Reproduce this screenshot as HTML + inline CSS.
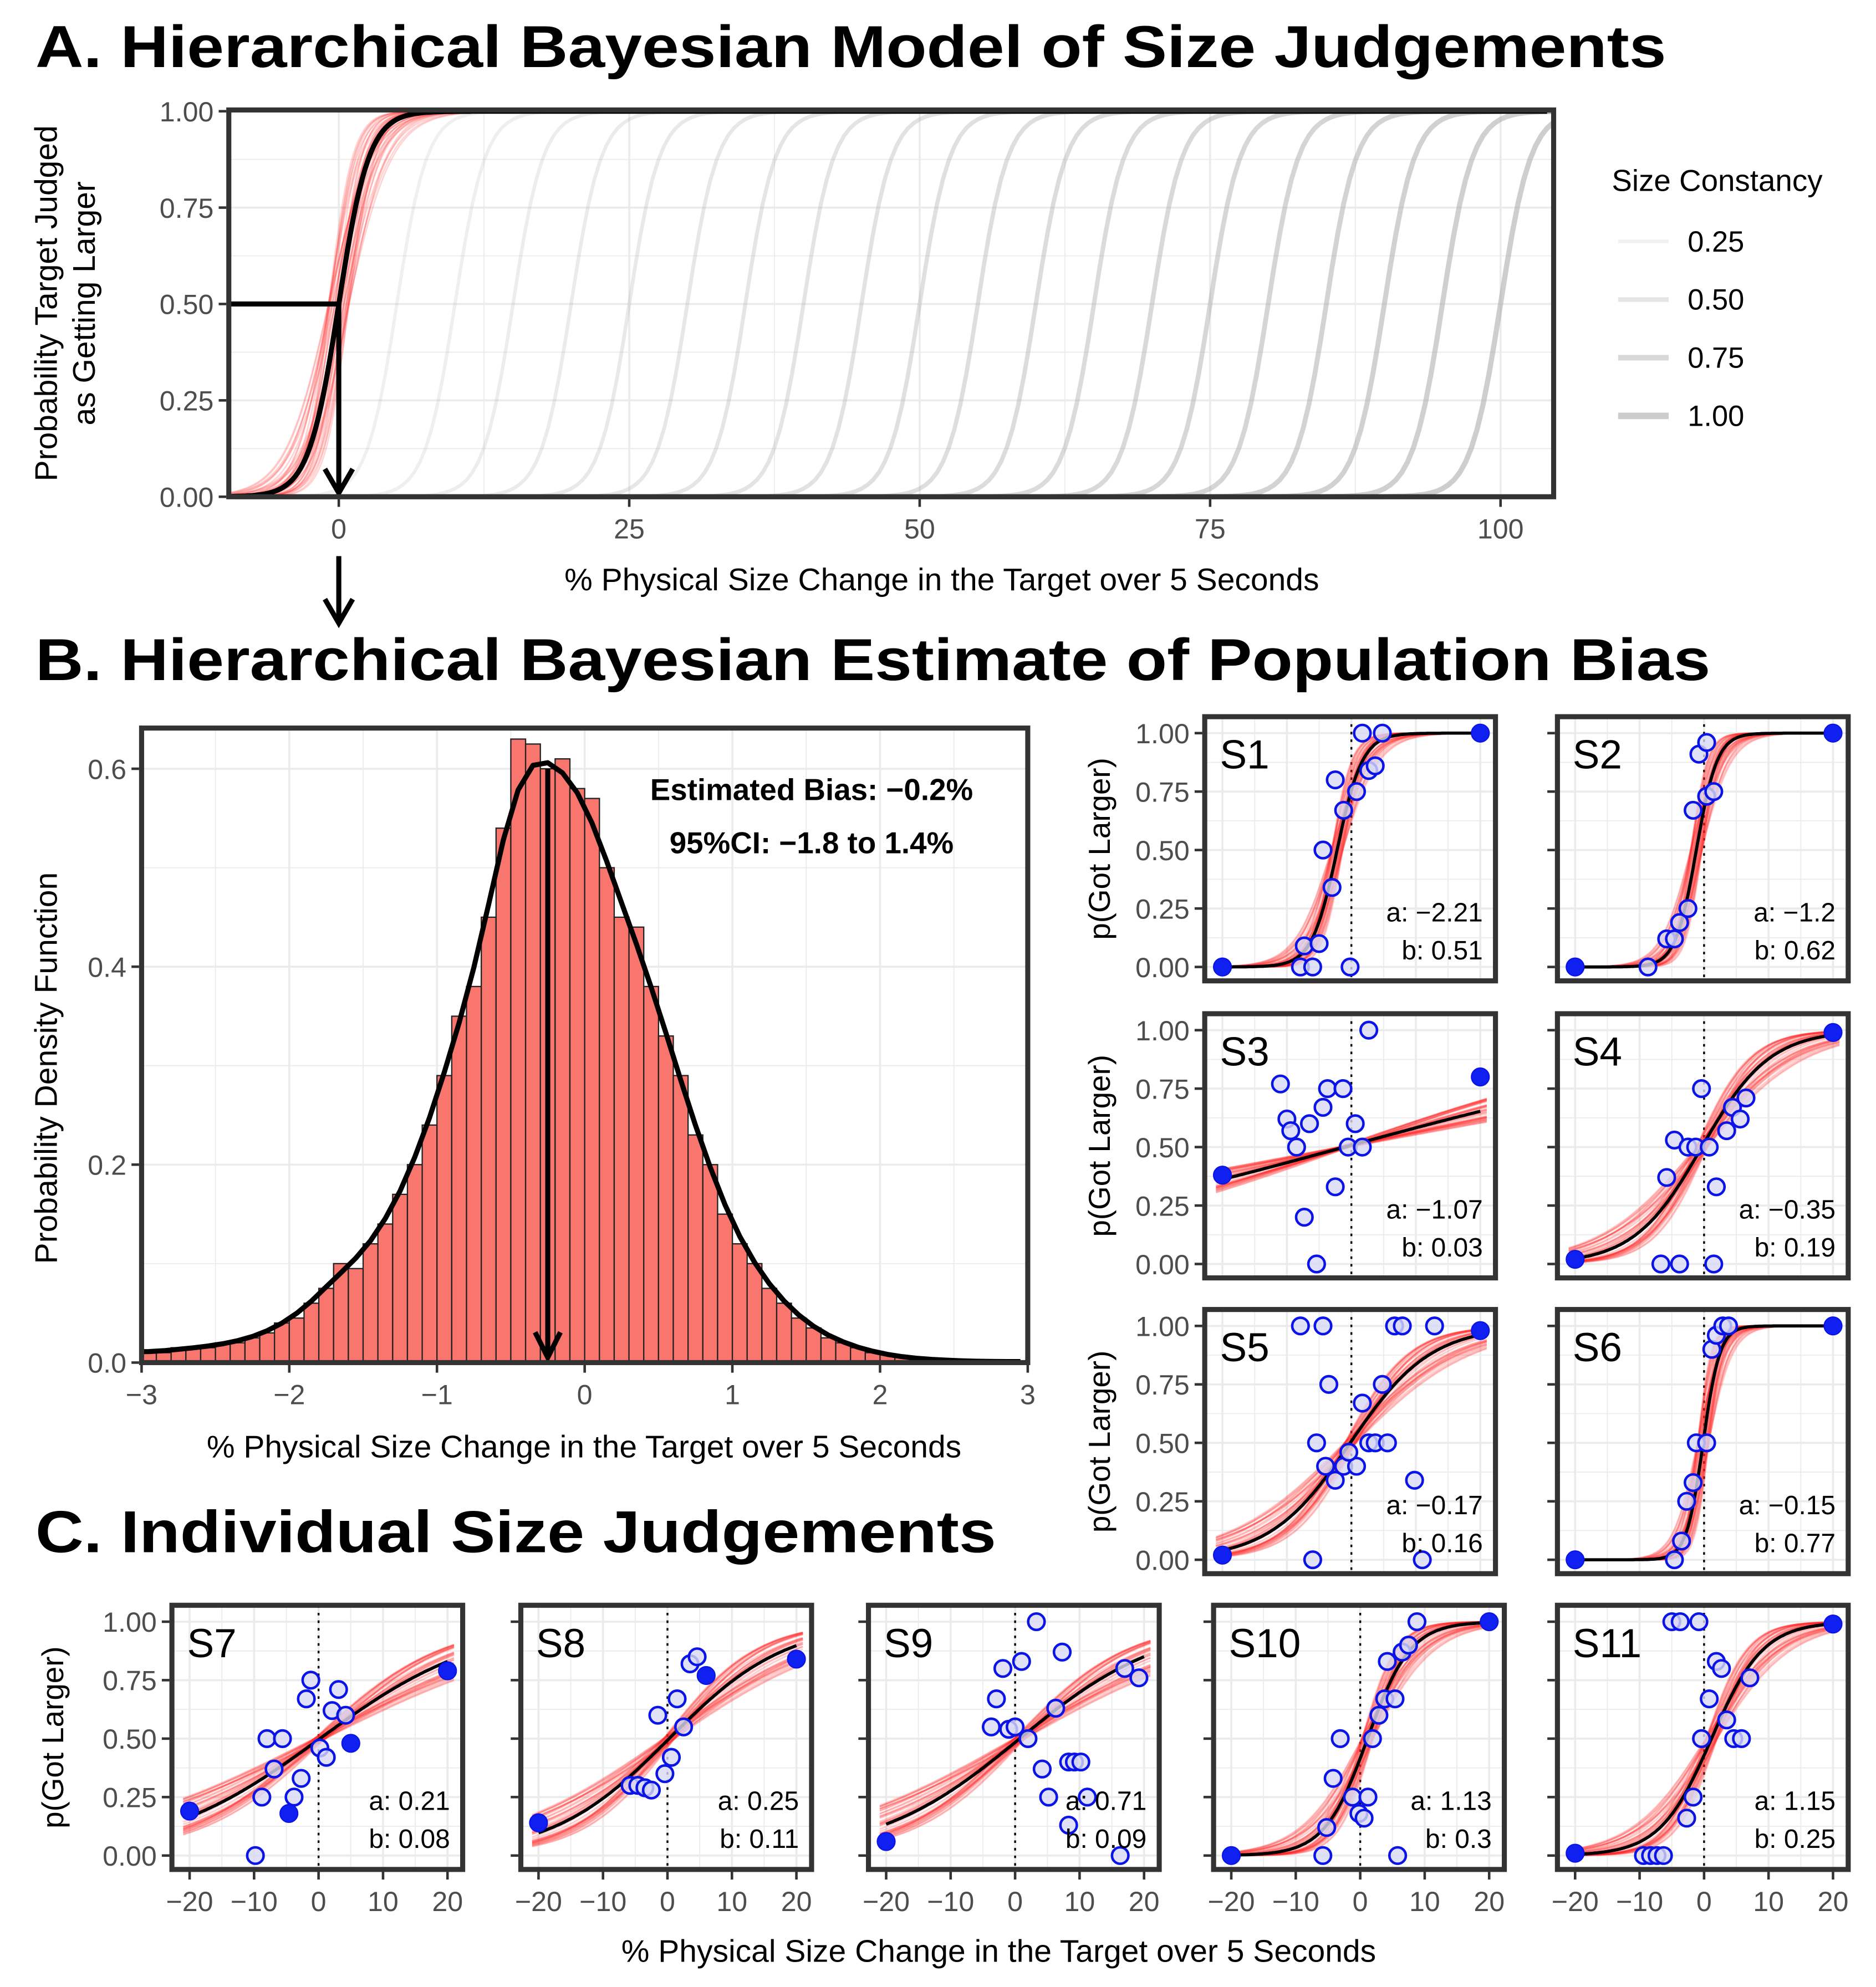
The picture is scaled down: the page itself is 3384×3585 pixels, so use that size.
<!DOCTYPE html>
<html><head><meta charset="utf-8"><style>
html,body{margin:0;padding:0;background:#fff;}
svg{display:block;font-family:"Liberation Sans",sans-serif;}
</style></head><body>
<svg id="fig" width="3384" height="3585" viewBox="0 0 1484 1572" preserveAspectRatio="none" xmlns="http://www.w3.org/2000/svg">
<rect width="1484" height="1572" fill="#fff"/>
<g id="root"></g>
</svg>
<script>
// ---------- DATA ----------
const panelAMidpoints = [0,5,10,15,20,25,30,35,40,45,50,55,60,65,70,75,80,85,90,95,100];
const panelAXTicks = [0,25,50,75,100];
const panelAYTicks = [0,0.25,0.5,0.75,1];
const legendValues = ["0.25","0.50","0.75","1.00"];
const histStart = -3.0;
const histBinWidth = 0.1;
const histDensity = [0.01,0.01,0.015,0.015,0.015,0.02,0.02,0.025,0.03,0.04,0.045,0.06,0.075,0.1,0.095,0.12,0.14,0.17,0.2,0.24,0.29,0.35,0.38,0.45,0.54,0.63,0.625,0.6,0.61,0.58,0.57,0.5,0.45,0.44,0.38,0.33,0.29,0.23,0.2,0.15,0.12,0.1,0.075,0.06,0.045,0.035,0.025,0.02,0.015,0.01,0.008,0.005,0.004,0.003,0.002,0.002,0.001,0.001,0.001,0.001];
const histXTicks = [-3,-2,-1,0,1,2,3];
const histYTicks = [0,0.2,0.4,0.6];
const biasEstimate = -0.25;
const subjects = ["S1","S2","S3","S4","S5","S6","S7","S8","S9","S10","S11"];
const paramA = [-2.21,-1.2,-1.07,-0.35,-0.17,-0.15,0.21,0.25,0.71,1.13,1.15];
const paramB = [0.51,0.62,0.03,0.19,0.16,0.77,0.08,0.11,0.09,0.3,0.25];
const labelA = ["−2.21","−1.2","−1.07","−0.35","−0.17","−0.15","0.21","0.25","0.71","1.13","1.15"];
const labelB = ["0.51","0.62","0.03","0.19","0.16","0.77","0.08","0.11","0.09","0.3","0.25"];
const filledPts = [
 [[-20,0],[20,1]],
 [[-20,0],[20,1]],
 [[-20,0.38],[20,0.8]],
 [[-20,0.02],[20,0.99]],
 [[-20,0.02],[20,0.98]],
 [[-20,0],[20,1]],
 [[-20,0.19],[20,0.79],[5,0.48],[-4.6,0.18]],
 [[-20,0.14],[20,0.84],[6,0.77]],
 [[-20,0.06]],
 [[-20,0],[20,1]],
 [[-20,0.01],[20,0.99]]
];
const openPts = [
 [[-7.9,0],[-7.3,0.09],[-5,0.1],[-6,0],[-4.4,0.5],[-2.5,0.8],[-1.2,0.67],[0.8,0.75],[1.7,1],[2.7,0.84],[3.7,0.86],[4.8,1],[-0.2,0],[-3,0.34]],
 [[-8.7,0],[-5.8,0.12],[-4.6,0.12],[-3.8,0.19],[-2.5,0.25],[-1.7,0.67],[-0.8,0.91],[0.4,0.96],[0.4,0.73],[1.5,0.75]],
 [[-11,0.77],[-10,0.62],[-9.4,0.57],[-8.5,0.5],[-7.3,0.2],[-6.5,0.6],[-5.4,0],[-4.4,0.67],[-3.7,0.75],[-2.5,0.33],[-1.3,0.75],[-0.5,0.5],[0.6,0.6],[1.7,0.5],[2.7,1]],
 [[-6.7,0],[-3.8,0],[-5.8,0.37],[-4.6,0.53],[-2.5,0.5],[-1.3,0.5],[-0.4,0.75],[0.8,0.5],[1.9,0.33],[1.5,0],[3.5,0.57],[4.4,0.67],[5.6,0.62],[6.5,0.71]],
 [[-7.9,1],[-4.4,1],[-5.4,0.5],[-3.5,0.75],[-4,0.4],[-2.5,0.34],[-6,0],[-1.2,0.4],[0.8,0.4],[-0.4,0.46],[1.7,0.67],[2.7,0.5],[3.7,0.5],[4.8,0.75],[5.6,0.5],[6.7,1],[7.9,1],[9.8,0.34],[11,0],[12.9,1]],
 [[-4.6,0],[-3.5,0.08],[-2.7,0.25],[-1.7,0.33],[-1.2,0.5],[0.4,0.5],[1.2,0.9],[1.9,0.96],[2.9,1],[3.8,1]],
 [[-9.8,0],[-8.8,0.25],[-8,0.5],[-5.6,0.5],[-6.9,0.37],[-3.8,0.25],[-2.7,0.33],[-1.2,0.75],[-1.9,0.67],[0.2,0.46],[1.2,0.42],[2.1,0.62],[3.1,0.71],[4.2,0.6]],
 [[-5.8,0.3],[-4.6,0.3],[-3.5,0.29],[-2.5,0.28],[-1.5,0.6],[-0.4,0.35],[0.6,0.42],[1.5,0.67],[2.5,0.55],[3.5,0.82],[4.6,0.85]],
 [[-3.7,0.55],[-2.9,0.67],[-1.9,0.8],[-1,0.54],[0,0.55],[1,0.83],[2,0.5],[3.3,1],[4.2,0.37],[5.2,0.25],[6.3,0.63],[7.3,0.87],[8.3,0.13],[8.3,0.4],[9.2,0.4],[10.2,0.4],[11.2,0.25],[16.3,0],[17,0.8],[19.2,0.76]],
 [[-5.8,0],[-5.2,0.12],[-4.2,0.33],[-3.1,0.5],[-1.2,0.25],[-0.2,0.18],[0.6,0.16],[1.2,0.25],[1.9,0.5],[2.9,0.6],[3.8,0.67],[4.2,0.83],[5.4,0.67],[5.8,0],[6.5,0.87],[7.5,0.9],[8.8,1]],
 [[-9.4,0],[-8.3,0],[-7.3,0],[-6.3,0],[-5,1],[-3.7,1],[-0.8,1],[-2.7,0.16],[-1.7,0.25],[-0.4,0.5],[0.8,0.67],[1.9,0.83],[2.7,0.8],[3.5,0.58],[4.6,0.5],[5.8,0.5],[7.1,0.76]]
];
const subjXTicks = [-20,-10,0,10,20];
const subjYTicks = [0,0.25,0.5,0.75,1];
const subjYTickLabels = ["0.00","0.25","0.50","0.75","1.00"];

// ---------- HELPERS ----------
const NS="http://www.w3.org/2000/svg";
const root=document.getElementById('root');
function mk(tag,attrs,parent,text){const e=document.createElementNS(NS,tag);for(const k in attrs)e.setAttribute(k,attrs[k]);if(text!==undefined)e.textContent=text;(parent||root).appendChild(e);return e;}
function grp(name,parent){const g=mk('g',{},parent);


return g;}
function txt(parent,name,x,y,s,opts){const t=mk('text',Object.assign({x:x,y:y},opts||{}),parent,s);


return t;}
const logistic=(x,a,b)=>1/(1+Math.exp(-b*(x-a)));
const jit=[];for(let i=0;i<40;i++){jit.push([Math.sin(i*2.39)*1.0,1+Math.cos(i*1.71)*0.32]);}

// ---------- TITLES ----------
txt(root,'title-a',28,53,'A. Hierarchical Bayesian Model of Size Judgements',{'font-size':47,'font-weight':'bold',textLength:1290,lengthAdjust:'spacingAndGlyphs'});
txt(root,'title-b',28,538,'B. Hierarchical Bayesian Estimate of Population Bias',{'font-size':47,'font-weight':'bold',textLength:1325,lengthAdjust:'spacingAndGlyphs'});
txt(root,'title-c',28,1228,'C. Individual Size Judgements',{'font-size':47,'font-weight':'bold',textLength:760,lengthAdjust:'spacingAndGlyphs'});

// ---------- PANEL A ----------
(function(){
 const g=grp('panel-a-chart');
 const L=181,R=1229,T=87,B=393;
 const xs=v=>268+(v)*9.19, ys=v=>393-v*305;
 mk('rect',{x:L,y:T,width:R-L,height:B-T,fill:'#fff'},g);
 const grid=grp('panel-a-grid',g);
 for(let v=-12.5;v<=112.5;v+=12.5){const x=xs(v);if(x>L&&x<R)mk('line',{x1:x,x2:x,y1:T,y2:B,stroke:'#ebebeb','stroke-width':v%25===0?1.6:0.8},grid);}
 for(let v=0;v<=1;v+=0.125){mk('line',{x1:L,x2:R,y1:ys(v),y2:ys(v),stroke:'#ebebeb','stroke-width':(v*8)%2===0?1.6:0.8},grid);}
 const cg=grp('constancy-curves',g);
 panelAMidpoints.forEach((m,i)=>{if(i===0)return;let d='';for(let x=-10;x<=105;x+=0.5){const px=xs(x);if(px<L||px>R)continue;d+=(d?'L':'M')+px.toFixed(1)+','+ys(logistic(x,m,1/1.3)).toFixed(1);}
  const p=mk('path',{d:d,fill:'none',stroke:'#aaa','stroke-width':2.5+i*0.08,'stroke-opacity':0.15+0.45*i/panelAMidpoints.length},cg);
  
  });
 const rg=grp('posterior-curves-a',g);
 jit.forEach(j=>{let d='';for(let x=-10;x<=12;x+=0.25){const px=xs(x);if(px<L)continue;d+=(d?'L':'M')+px.toFixed(1)+','+ys(logistic(x,j[0]*0.9,j[1]/1.3)).toFixed(1);}mk('path',{d:d,fill:'none',stroke:'#ff2a2a','stroke-width':1.2,'stroke-opacity':0.2},rg);});
 let d='';for(let x=-10;x<=104;x+=0.25){const px=xs(x);if(px<L||px>R)continue;d+=(d?'L':'M')+px.toFixed(1)+','+ys(logistic(x,panelAMidpoints[0],1/1.3)).toFixed(1);}
 const bc=mk('path',{d:d,fill:'none',stroke:'#000','stroke-width':4},g);
 
 
 const ar=grp('pse-arrow',g);
 mk('path',{d:`M${L},${ys(0.5)}H${xs(0)}V${B-6}`,fill:'none',stroke:'#000','stroke-width':4},ar);
 mk('path',{d:`M${xs(0)-11},${B-22}L${xs(0)},${B-3}L${xs(0)+11},${B-22}`,fill:'none',stroke:'#000','stroke-width':4},ar);
 mk('rect',{x:L,y:T,width:R-L,height:B-T,fill:'none',stroke:'#333','stroke-width':4},g);
 const ax=grp('x-axis-a',g);
 panelAXTicks.forEach(v=>{mk('line',{x1:xs(v),x2:xs(v),y1:B+2,y2:B+8,stroke:'#333','stroke-width':2},ax);txt(ax,'x-tick-label',xs(v),B+33,String(v),{'font-size':22,fill:'#4d4d4d','text-anchor':'middle'});});
 const ay=grp('y-axis-a',g);
 panelAYTicks.forEach(v=>{mk('line',{x1:L-8,x2:L-2,y1:ys(v),y2:ys(v),stroke:'#333','stroke-width':2},ay);txt(ay,'y-tick-label',L-12,ys(v)+8,v.toFixed(2),{'font-size':22,fill:'#4d4d4d','text-anchor':'end'});});
 txt(g,'x-axis-title-a',745,467,'% Physical Size Change in the Target over 5 Seconds',{'font-size':25,'text-anchor':'middle'});
 const yt=mk('text',{transform:'translate(45,240) rotate(-90)','font-size':25,'text-anchor':'middle'},g);
 
 
 mk('tspan',{x:0,dy:0},yt,'Probability Target Judged');mk('tspan',{x:0,dy:30},yt,'as Getting Larger');
 const ar2=grp('connector-arrow',root);
 mk('path',{d:`M268,440V490`,stroke:'#000','stroke-width':4},ar2);
 mk('path',{d:`M257,474L268,493L279,474`,fill:'none',stroke:'#000','stroke-width':4},ar2);
 const lg=grp('legend',root);
 txt(lg,'legend-title',1275,151,'Size Constancy',{'font-size':24});
 legendValues.forEach((s,i)=>{const y=191+i*46;const l=mk('line',{x1:1280,x2:1320,y1:y,y2:y,stroke:'#aaa','stroke-width':3+i*0.7,'stroke-opacity':0.15+0.15*i},lg);
 
 
 txt(lg,'legend-label',1335,y+8,s,{'font-size':23});});
})();

// ---------- PANEL B HISTOGRAM ----------
(function(){
 const g=grp('panel-b-histogram');
 const L=112,R=813,T=576,B=1078;
 const xs=v=>L+(v+3)*(R-L)/6, ys=v=>B-v*783;
 mk('rect',{x:L,y:T,width:R-L,height:B-T,fill:'#fff'},g);
 const grid=grp('grid-b',g);
 for(let v=-2.5;v<=2.5;v+=0.5){mk('line',{x1:xs(v),x2:xs(v),y1:T,y2:B,stroke:'#ebebeb','stroke-width':Number.isInteger(v)?1.6:0.8},grid);}
 for(let v=0.1;v<=0.62;v+=0.1){mk('line',{x1:L,x2:R,y1:ys(v),y2:ys(v),stroke:'#ebebeb','stroke-width':Math.round(v*10)%2===0?1.6:0.8},grid);}
 const bars=grp('histogram-bars',g);
 histDensity.forEach((v,i)=>{const x0=xs(histStart+i*histBinWidth),x1=xs(histStart+(i+1)*histBinWidth);
  const r=mk('rect',{x:x0,y:ys(v),width:x1-x0,height:B-ys(v),fill:'#f8766d',stroke:'#222','stroke-width':1},bars);
  
  });
 const sm=histDensity.map((v,i)=>{let s=0,w=0;for(let k=-3;k<=3;k++){const j=i+k;if(j<0||j>=histDensity.length)continue;const ww=Math.exp(-k*k/4);s+=histDensity[j]*ww;w+=ww;}return s/w;});
 let d='';sm.forEach((v,i)=>{d+=(i?'L':'M')+xs(histStart+(i+0.5)*histBinWidth).toFixed(1)+','+ys(v).toFixed(1);});
 d='M'+xs(-3)+','+ys(sm[0])+d.replace('M','L');
 const c=mk('path',{d:d,fill:'none',stroke:'#000','stroke-width':4,'stroke-linejoin':'round'},g);
 
 
 const ar=grp('bias-arrow',g);
 const bx=xs(biasEstimate);
 mk('line',{x1:bx,x2:bx,y1:ys(0.6),y2:B-5,stroke:'#000','stroke-width':4},ar);
 mk('path',{d:`M${bx-10},${B-24}L${bx},${B-4}L${bx+10},${B-24}`,fill:'none',stroke:'#000','stroke-width':4},ar);
 mk('rect',{x:L,y:T,width:R-L,height:B-T,fill:'none',stroke:'#333','stroke-width':4},g);
 txt(g,'bias-annotation',642,633,'Estimated Bias: −0.2%',{'font-size':24,'font-weight':'bold','text-anchor':'middle'});
 txt(g,'ci-annotation',642,675,'95%CI: −1.8 to 1.4%',{'font-size':24,'font-weight':'bold','text-anchor':'middle'});
 const ax=grp('x-axis-b',g);
 histXTicks.forEach(v=>{mk('line',{x1:xs(v),x2:xs(v),y1:B+2,y2:B+8,stroke:'#333','stroke-width':2},ax);txt(ax,'x-tick-label',xs(v),B+33,v<0?'−'+(-v):String(v),{'font-size':22,fill:'#4d4d4d','text-anchor':'middle'});});
 const ay=grp('y-axis-b',g);
 histYTicks.forEach(v=>{mk('line',{x1:L-8,x2:L-2,y1:ys(v),y2:ys(v),stroke:'#333','stroke-width':2},ay);txt(ay,'y-tick-label',L-12,ys(v)+8,v.toFixed(1),{'font-size':22,fill:'#4d4d4d','text-anchor':'end'});});
 txt(g,'x-axis-title-b',462,1153,'% Physical Size Change in the Target over 5 Seconds',{'font-size':25,'text-anchor':'middle'});
 txt(g,'y-axis-title-b',0,0,'Probability Density Function',{'font-size':25,'text-anchor':'middle',x:0,y:0,transform:'translate(45,845) rotate(-90)'});
})();

// ---------- SUBJECT PANELS ----------
const panelBoxes=[[953,567],[1232,567],[953,802],[1232,802],[953,1036],[1232,1036],[136,1270],[412,1270],[687,1270],[960,1270],[1232,1270]];
const labeledY=[0,2,4,6];
subjects.forEach((name,si)=>{
 const [L,T]=panelBoxes[si];const W=230,H=209;const R=L+W,B=T+H;
 const g=grp('panel-'+name.toLowerCase());
 const xs=v=>L+14+(v+20)*(W-26)/40, ys=v=>B-11-v*185;
 mk('rect',{x:L,y:T,width:W,height:H,fill:'#fff'},g);
 const grid=grp('grid',g);
 for(let v=-20;v<=20;v+=5){mk('line',{x1:xs(v),x2:xs(v),y1:T,y2:B,stroke:'#ebebeb','stroke-width':v%10===0?1.6:0.8},grid);}
 for(let v=0;v<=1;v+=0.125){mk('line',{x1:L,x2:R,y1:ys(v),y2:ys(v),stroke:'#ebebeb','stroke-width':(v*8)%2===0?1.6:0.8},grid);}
 mk('line',{x1:xs(0),x2:xs(0),y1:T,y2:B,stroke:'#000','stroke-width':1.5,'stroke-dasharray':'2,4'},g);
 const a=paramA[si],b=paramB[si];
 const rg=grp('posterior-curves',g);
 jit.forEach(j=>{let d='';for(let x=-21;x<=21;x+=0.5){d+=(d?'L':'M')+xs(x).toFixed(1)+','+ys(logistic(x,a+j[0]*0.9,b*j[1])).toFixed(1);}mk('path',{d:d,fill:'none',stroke:'#ff2020','stroke-width':1.3,'stroke-opacity':0.22},rg);});
 let d='';for(let x=-20;x<=20;x+=0.25){d+=(d?'L':'M')+xs(x).toFixed(1)+','+ys(logistic(x,a,b)).toFixed(1);}
 const c=mk('path',{d:d,fill:'none',stroke:'#000','stroke-width':2.5},g);
 
 
 const pg=grp('data-points',g);
 openPts[si].forEach(p=>{const e=mk('circle',{cx:xs(p[0]),cy:ys(p[1]),r:6.5,fill:'#d8d8f4','fill-opacity':0.8,stroke:'#0a14e6','stroke-width':2},pg);
  
  });
 filledPts[si].forEach(p=>{const e=mk('circle',{cx:xs(p[0]),cy:ys(p[1]),r:7,fill:'#1020f0',stroke:'#0a14e6','stroke-width':1},pg);
  
  });
 mk('rect',{x:L,y:T,width:W,height:H,fill:'none',stroke:'#333','stroke-width':4},g);
 txt(g,'panel-label',L+12,T+41,name,{'font-size':32});
 txt(g,'param-a',R-10,B-47,'a: '+labelA[si],{'font-size':21,'text-anchor':'end'});
 txt(g,'param-b',R-10,B-17,'b: '+labelB[si],{'font-size':21,'text-anchor':'end'});
 const ay=grp('y-axis',g);
 subjYTicks.forEach((v,i)=>{mk('line',{x1:L-8,x2:L-2,y1:ys(v),y2:ys(v),stroke:'#333','stroke-width':2},ay);
  if(labeledY.includes(si))txt(ay,'y-tick-label',L-12,ys(v)+8,subjYTickLabels[i],{'font-size':22,fill:'#4d4d4d','text-anchor':'end'});});
 if(labeledY.includes(si)){
  txt(g,'y-axis-title',0,0,'p(Got Larger)',{'font-size':24,'text-anchor':'middle',transform:`translate(${si===6?50:878},${T+H/2}) rotate(-90)`});
 }
 if(si>=6){
  const ax=grp('x-axis',g);
  subjXTicks.forEach(v=>{mk('line',{x1:xs(v),x2:xs(v),y1:B+2,y2:B+8,stroke:'#333','stroke-width':2},ax);txt(ax,'x-tick-label',xs(v),B+33,v<0?'−'+(-v):String(v),{'font-size':22,fill:'#4d4d4d','text-anchor':'middle'});});
 }
});
txt(root,'x-axis-title-c',790,1552,'% Physical Size Change in the Target over 5 Seconds',{'font-size':25,'text-anchor':'middle'});
</script>
</body></html>
